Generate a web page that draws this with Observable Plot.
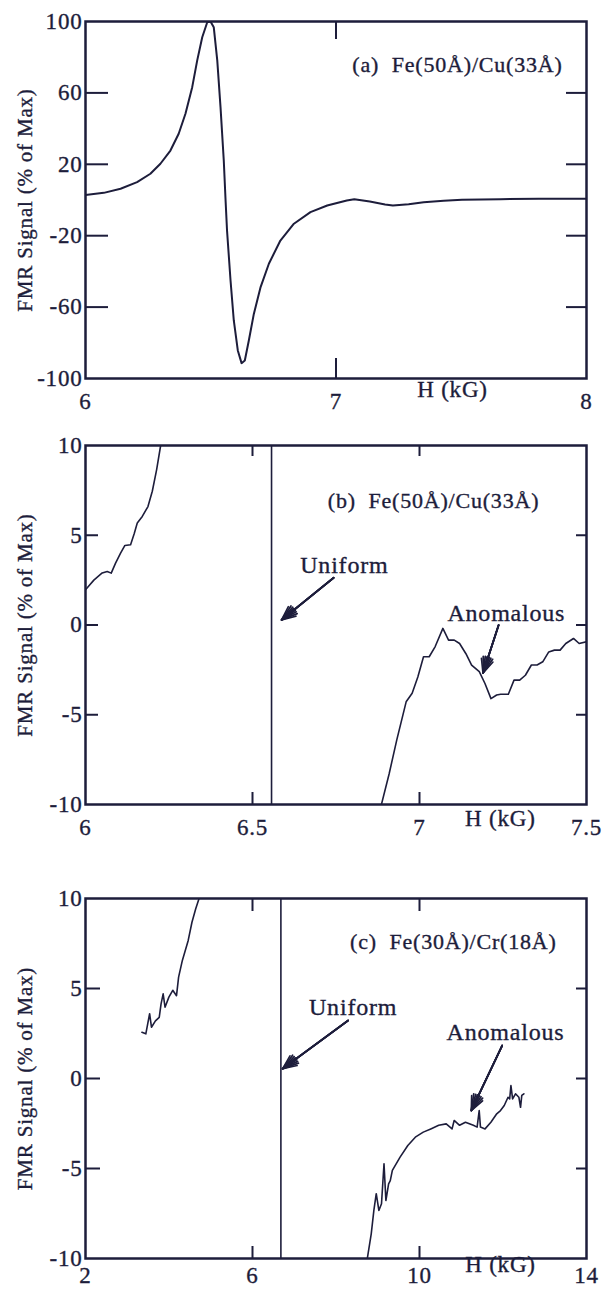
<!DOCTYPE html>
<html><head><meta charset="utf-8">
<script src="https://cdn.jsdelivr.net/npm/d3@7"></script>
<script src="https://cdn.jsdelivr.net/npm/@observablehq/plot@0.6"></script>
<style>
body{margin:0;background:#fff;}
#wrap{position:relative;width:603px;height:1289px;background:#fff;}
.panel{position:absolute;left:0;}
.panel svg text{stroke:#1d1d3b;stroke-width:0.35px;}
</style></head><body><div id="wrap"></div>
<script>
const ink = "#1d1d3b";
const yTitle = "FMR Signal (% of Max)";
const xTitle = "H (kG)";

// ---------- Panel (a) ----------
const aTitle = "(a)  Fe(50Å)/Cu(33Å)";
const aH = [6.0, 6.073, 6.14, 6.206, 6.259, 6.299, 6.339, 6.372, 6.399, 6.426, 6.446, 6.466, 6.486, 6.499, 6.512, 6.526, 6.539, 6.552, 6.559, 6.565, 6.579, 6.592, 6.608, 6.623, 6.636, 6.652, 6.672, 6.699, 6.732, 6.778, 6.832, 6.898, 6.965, 7.043, 7.073, 7.135, 7.196, 7.227, 7.29, 7.35, 7.43, 7.503, 7.657, 7.81, 8.0];
const aSignal = [2.8, 4.0, 6.3, 10.0, 14.7, 20.3, 27.7, 37.1, 48.3, 63.2, 78.2, 91.2, 99.6, 100, 96.8, 78.2, 52, 22.1, 0.3, -17.1, -45.1, -67.5, -84.3, -91.4, -89.9, -78.7, -63.8, -48.8, -35.7, -22.7, -13.3, -6.8, -3.1, -0.3, 0.45, -0.8, -2.5, -3.1, -2.4, -1.2, -0.4, 0.1, 0.45, 0.7, 0.7];
const aXTicks = [7];
const aYTicks = [60, 20, -20, -60];
const aXLabels = [6, 7, 8];
const aYLabels = [100, 60, 20, -20, -60, -100];

// ---------- Panel (b) ----------
const bTitle = "(b)  Fe(50Å)/Cu(33Å)";
const bUniformH = 6.557;
const bLeftH = [6.0, 6.025, 6.05, 6.065, 6.077, 6.09, 6.105, 6.118, 6.135, 6.146, 6.155, 6.17, 6.187, 6.2, 6.213, 6.225];
const bLeftSignal = [1.96, 2.5, 2.9, 2.98, 2.89, 3.45, 4.0, 4.43, 4.47, 5.1, 5.68, 6.05, 6.6, 7.45, 8.66, 10.0];
const bRightH = [6.886, 6.909, 6.932, 6.96, 6.978, 6.995, 7.012, 7.029, 7.047, 7.07, 7.087, 7.104, 7.12, 7.139, 7.156, 7.179, 7.196, 7.214, 7.231, 7.243, 7.266, 7.283, 7.3, 7.317, 7.335, 7.352, 7.369, 7.387, 7.404, 7.421, 7.438, 7.461, 7.478, 7.5];
const bRightSignal = [-10.0, -8.3, -6.4, -4.28, -3.8, -2.9, -1.77, -1.77, -1.2, -0.19, -0.84, -0.84, -1.03, -1.6, -2.23, -2.6, -3.26, -4.1, -3.9, -3.86, -3.86, -3.07, -3.07, -2.8, -2.23, -2.23, -2.05, -1.5, -1.4, -1.4, -1.03, -0.75, -1.03, -0.93];
const bXTicks = [6.5, 7];
const bYTicks = [5, 0, -5];
const bXLabels = [6, 6.5, 7, 7.5];
const bYLabels = [10, 5, 0, -5, -10];

// ---------- Panel (c) ----------
const cTitle = "(c)  Fe(30Å)/Cr(18Å)";
const cUniformH = 6.68;
const cLeftH = [3.351, 3.445, 3.49, 3.536, 3.58, 3.675, 3.766, 3.81, 3.86, 3.905, 3.997, 4.09, 4.18, 4.23, 4.32, 4.46, 4.55, 4.64, 4.72];
const cLeftSignal = [2.57, 2.48, 3.04, 3.6, 2.85, 3.2, 3.4, 4.15, 4.7, 3.96, 4.52, 4.9, 4.6, 5.63, 6.56, 7.67, 8.68, 9.43, 10.0];
const cRightH = [8.75, 8.844, 8.907, 8.964, 9.027, 9.09, 9.15, 9.195, 9.26, 9.3, 9.35, 9.535, 9.72, 9.9, 10.09, 10.27, 10.46, 10.64, 10.78, 10.83, 10.96, 11.1, 11.29, 11.38, 11.43, 11.46, 11.57, 11.71, 11.85, 11.94, 12.03, 12.12, 12.16, 12.19, 12.23, 12.3, 12.38, 12.42, 12.45, 12.5];
const cRightSignal = [-10.0, -8.63, -7.33, -6.4, -7.33, -6.96, -4.74, -6.78, -5.85, -5.67, -5.1, -4.37, -3.72, -3.26, -2.98, -2.8, -2.6, -2.52, -2.8, -2.33, -2.6, -2.43, -2.6, -2.7, -1.78, -2.7, -2.8, -2.43, -1.96, -1.78, -1.5, -1.04, -1.13, -0.39, -1.13, -0.85, -1.04, -1.6, -0.94, -0.85];
const cXTicks = [6, 10];
const cYTicks = [5, 0, -5];
const cXLabels = [2, 6, 10, 14];
const cYLabels = [10, 5, 0, -5, -10];

const annUniform = "Uniform";
const annAnomalous = "Anomalous";

function pts(hs, vs) { return hs.map((h, i) => ({h, v: vs[i]})); }

function panel(o) {
  const W = 603, ml = 85, mr = 17;
  const iw = W - ml - mr, ih = o.h - o.mt - o.mb;
  const marks = [
    Plot.tickY(o.yTicks, {y: d => d, insetRight: iw - o.tl, stroke: ink, strokeWidth: 2}),
    Plot.tickY(o.yTicks, {y: d => d, insetLeft: iw - o.tr, stroke: ink, strokeWidth: 2}),
    Plot.tickX(o.xTicks, {x: d => d, insetBottom: ih - o.tt, stroke: ink, strokeWidth: 2}),
    Plot.tickX(o.xTicks, {x: d => d, insetTop: ih - o.tb, stroke: ink, strokeWidth: 2}),
    Plot.axisY({ticks: o.yLabels, anchor: "left", tickSize: 0, tickPadding: 3, tickFormat: d => String(d), label: null}),
    Plot.axisX({ticks: o.xLabels, anchor: "bottom", tickSize: 0, tickPadding: o.xpad, tickFormat: d => String(d), label: null}),
    Plot.text([yTitle], {text: d => d, frameAnchor: "left", textAnchor: "middle", rotate: -90, dx: -60, fontSize: 21}),
    Plot.text([xTitle], {text: d => d, x: o.xTitleH, frameAnchor: "bottom", dy: o.xTitleDy}),
    Plot.text([o.title], {text: d => d, x: o.titleAt[0], y: o.titleAt[1], fontSize: 22, letterSpacing: "0.8px"})
  ];
  o.curves.forEach(c => marks.push(Plot.line(c, {x: "h", y: "v", stroke: ink, strokeWidth: o.sw, clip: true, curve: "linear"})));
  if (o.uniformH != null) marks.push(Plot.ruleX([o.uniformH], {stroke: ink, strokeWidth: 1.6}));
  (o.anns || []).forEach(a => {
    marks.push(Plot.text([a.text], {text: d => d, x: a.at[0], y: a.at[1], fontSize: 24, letterSpacing: "1px"}));
    [48, 34, 20, 8].forEach((ang, k) => marks.push(Plot.arrow([a], {
      x1: d => d.from[0], y1: d => d.from[1], x2: d => d.to[0], y2: d => d.to[1],
      stroke: ink, strokeWidth: k === 0 ? 1.6 : 1.8, headLength: 14, headAngle: ang
    })));
  });
  marks.push(Plot.frame({stroke: ink, strokeWidth: 2.5}));
  return Plot.plot({
    width: W, height: o.h,
    marginTop: o.mt, marginBottom: o.mb, marginLeft: ml, marginRight: mr,
    x: {domain: o.xd},
    y: {domain: o.yd},
    style: {fontFamily: "'Liberation Serif', serif", fontSize: "23px", color: ink, background: "transparent", letterSpacing: "0.8px", overflow: "visible"},
    marks
  });
}

const wrap = document.getElementById("wrap");
function place(svg, top) {
  const d = document.createElement("div");
  d.className = "panel"; d.style.top = top + "px";
  d.appendChild(svg); wrap.appendChild(d);
}

place(panel({
  h: 420, mt: 21, mb: 42, xd: [6, 8], yd: [-100, 100],
  xTicks: aXTicks, yTicks: aYTicks, xLabels: aXLabels, yLabels: aYLabels,
  tl: 23, tr: 20, tt: 18, tb: 20, xpad: 14, xTitleH: 7.465, xTitleDy: 18,
  title: aTitle, titleAt: [7.485, 75.5], sw: 2,
  curves: [pts(aH, aSignal)]
}), 0);

place(panel({
  h: 430, mt: 25, mb: 46, xd: [6, 7.5], yd: [-10, 10],
  xTicks: bXTicks, yTicks: bYTicks, xLabels: bXLabels, yLabels: bYLabels,
  tl: 13, tr: 10, tt: 11, tb: 12, xpad: 14, xTitleH: 7.242, xTitleDy: 21,
  title: bTitle, titleAt: [7.042, 6.9], sw: 1.6, uniformH: bUniformH,
  curves: [pts(bLeftH, bLeftSignal), pts(bRightH, bRightSignal)],
  anns: [
    {text: annUniform, at: [6.775, 3.35], from: [6.743, 2.63], to: [6.587, 0.28]},
    {text: annAnomalous, at: [7.26, 0.67], from: [7.237, 0.0], to: [7.19, -2.68]}
  ]
}), 420);

place(panel({
  h: 439, mt: 48, mb: 31, xd: [2, 14], yd: [-10, 10],
  xTicks: cXTicks, yTicks: cYTicks, xLabels: cXLabels, yLabels: cYLabels,
  tl: 15, tr: 10, tt: 13, tb: 12, xpad: 8, xTitleH: 11.94, xTitleDy: 13,
  title: cTitle, titleAt: [10.81, 7.6], sw: 1.6, uniformH: cUniformH,
  curves: [pts(cLeftH, cLeftSignal), pts(cRightH, cRightSignal)],
  anns: [
    {text: annUniform, at: [8.41, 3.94], from: [8.29, 3.22], to: [6.72, 0.54]},
    {text: annAnomalous, at: [12.06, 2.55], from: [11.98, 1.83], to: [11.24, -1.78]}
  ]
}), 850);
</script></body></html>
